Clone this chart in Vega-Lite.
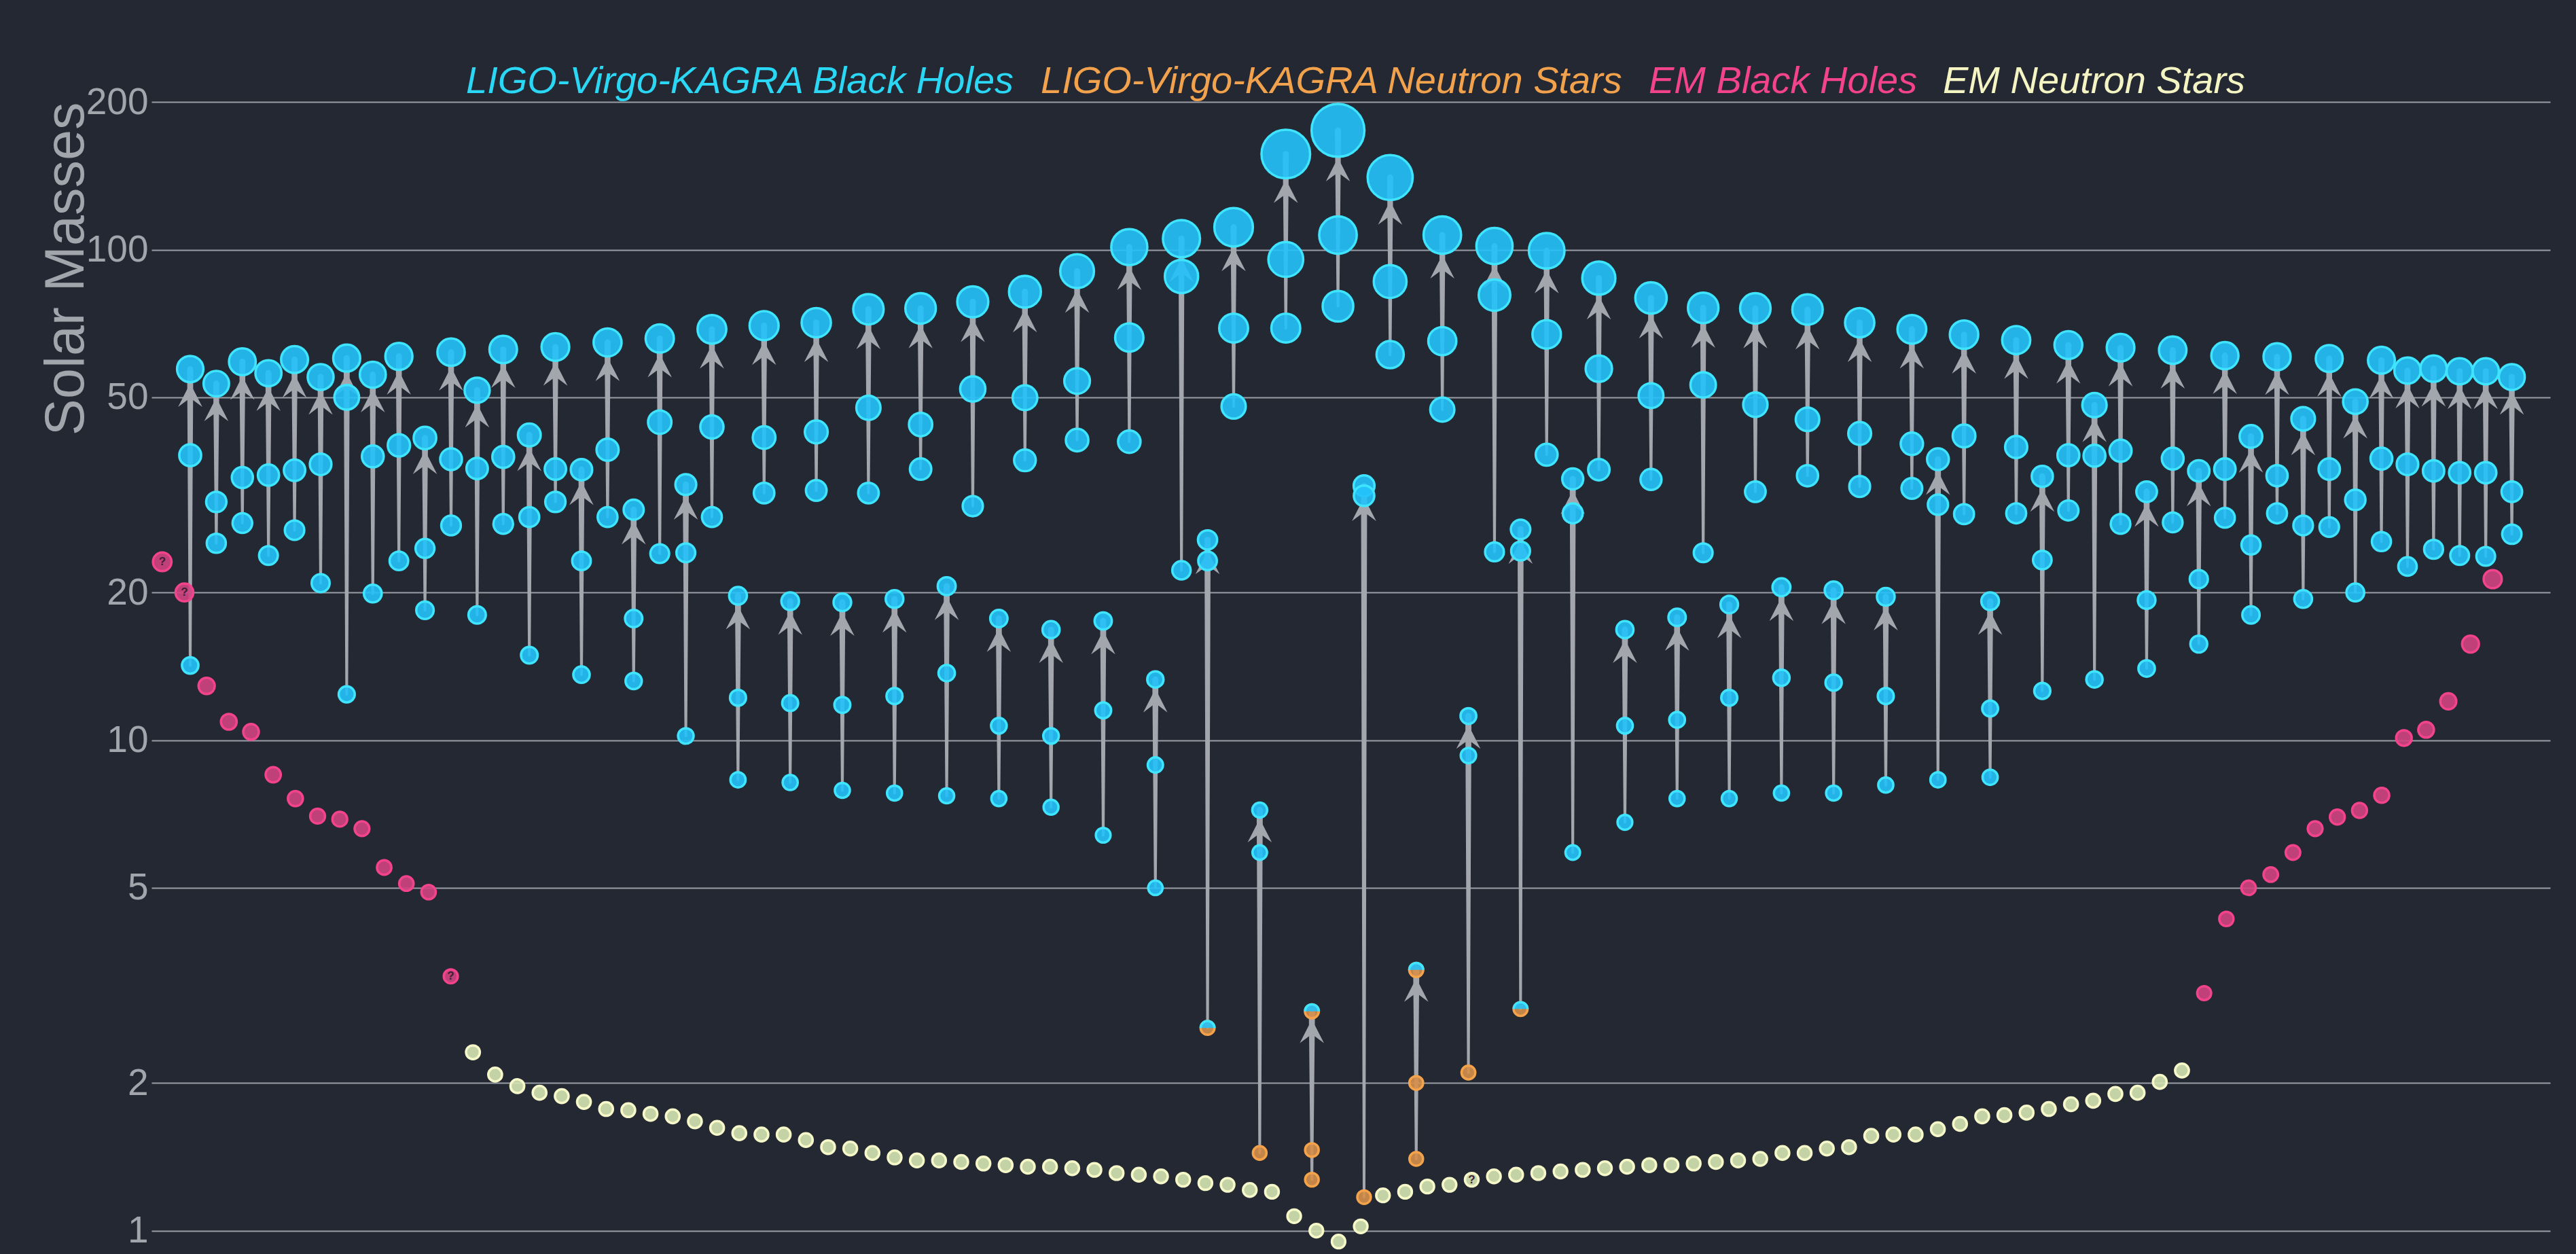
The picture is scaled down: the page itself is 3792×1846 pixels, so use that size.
{
"$schema": "https://vega.github.io/schema/vega-lite/v6.json",
"width": 3531, "height": 1846,
"autosize": {"type": "none"},
"padding": {"left": 223, "top": 0, "right": 38, "bottom": 0},
"background": "#242833",
"config": {"view": {"stroke": null}, "font": "Liberation Sans",
  "legend": {"symbolSize": 0, "symbolStrokeWidth": 0, "symbolOpacity": 0, "labelOffset": -19, "columnPadding": 0, "padding": 0,
    "labelFont": "Liberation Sans", "labelFontSize": 56, "labelFontStyle": "italic", "labelLimit": 2000}},
"datasets": {
"lvk": [
{"event":0,"role":"f","mass":57.1,"type":"LB"},{"event":0,"role":"a","mass":38.1,"type":"LB"},{"event":0,"role":"b","mass":14.2,"type":"LB"},
{"event":1,"role":"f","mass":53.3,"type":"LB"},{"event":1,"role":"a","mass":30.6,"type":"LB"},{"event":1,"role":"b","mass":25.2,"type":"LB"},
{"event":2,"role":"f","mass":59.1,"type":"LB"},{"event":2,"role":"a","mass":34.3,"type":"LB"},{"event":2,"role":"b","mass":27.7,"type":"LB"},
{"event":3,"role":"f","mass":56.0,"type":"LB"},{"event":3,"role":"a","mass":34.7,"type":"LB"},{"event":3,"role":"b","mass":23.8,"type":"LB"},
{"event":4,"role":"f","mass":59.7,"type":"LB"},{"event":4,"role":"a","mass":35.5,"type":"LB"},{"event":4,"role":"b","mass":26.8,"type":"LB"},
{"event":5,"role":"f","mass":55.0,"type":"LB"},{"event":5,"role":"a","mass":36.5,"type":"LB"},{"event":5,"role":"b","mass":20.9,"type":"LB"},
{"event":6,"role":"f","mass":60.1,"type":"LB"},{"event":6,"role":"a","mass":50.0,"type":"LB"},{"event":6,"role":"b","mass":12.4,"type":"LB"},
{"event":7,"role":"f","mass":55.6,"type":"LB"},{"event":7,"role":"a","mass":37.9,"type":"LB"},{"event":7,"role":"b","mass":19.9,"type":"LB"},
{"event":8,"role":"f","mass":60.6,"type":"LB"},{"event":8,"role":"a","mass":39.9,"type":"LB"},{"event":8,"role":"b","mass":23.2,"type":"LB"},
{"event":9,"role":"f","mass":41.3,"type":"LB"},{"event":9,"role":"a","mass":24.6,"type":"LB"},{"event":9,"role":"b","mass":18.4,"type":"LB"},
{"event":10,"role":"f","mass":61.8,"type":"LB"},{"event":10,"role":"a","mass":37.4,"type":"LB"},{"event":10,"role":"b","mass":27.4,"type":"LB"},
{"event":11,"role":"f","mass":51.7,"type":"LB"},{"event":11,"role":"a","mass":35.8,"type":"LB"},{"event":11,"role":"b","mass":18.0,"type":"LB"},
{"event":12,"role":"f","mass":62.6,"type":"LB"},{"event":12,"role":"a","mass":37.8,"type":"LB"},{"event":12,"role":"b","mass":27.6,"type":"LB"},
{"event":13,"role":"f","mass":41.9,"type":"LB"},{"event":13,"role":"a","mass":28.5,"type":"LB"},{"event":13,"role":"b","mass":14.9,"type":"LB"},
{"event":14,"role":"f","mass":63.3,"type":"LB"},{"event":14,"role":"a","mass":35.7,"type":"LB"},{"event":14,"role":"b","mass":30.6,"type":"LB"},
{"event":15,"role":"f","mass":35.6,"type":"LB"},{"event":15,"role":"a","mass":23.2,"type":"LB"},{"event":15,"role":"b","mass":13.6,"type":"LB"},
{"event":16,"role":"f","mass":64.7,"type":"LB"},{"event":16,"role":"a","mass":39.1,"type":"LB"},{"event":16,"role":"b","mass":28.5,"type":"LB"},
{"event":17,"role":"f","mass":29.5,"type":"LB"},{"event":17,"role":"a","mass":17.7,"type":"LB"},{"event":17,"role":"b","mass":13.2,"type":"LB"},
{"event":18,"role":"f","mass":65.9,"type":"LB"},{"event":18,"role":"a","mass":44.5,"type":"LB"},{"event":18,"role":"b","mass":24.0,"type":"LB"},
{"event":19,"role":"f","mass":33.2,"type":"LB"},{"event":19,"role":"a","mass":24.1,"type":"LB"},{"event":19,"role":"b","mass":10.2,"type":"LB"},
{"event":20,"role":"f","mass":68.8,"type":"LB"},{"event":20,"role":"a","mass":43.5,"type":"LB"},{"event":20,"role":"b","mass":28.5,"type":"LB"},
{"event":21,"role":"f","mass":19.7,"type":"LB"},{"event":21,"role":"a","mass":12.2,"type":"LB"},{"event":21,"role":"b","mass":8.3,"type":"LB"},
{"event":22,"role":"f","mass":70.0,"type":"LB"},{"event":22,"role":"a","mass":41.4,"type":"LB"},{"event":22,"role":"b","mass":31.9,"type":"LB"},
{"event":23,"role":"f","mass":19.2,"type":"LB"},{"event":23,"role":"a","mass":11.9,"type":"LB"},{"event":23,"role":"b","mass":8.2,"type":"LB"},
{"event":24,"role":"f","mass":71.0,"type":"LB"},{"event":24,"role":"a","mass":42.5,"type":"LB"},{"event":24,"role":"b","mass":32.3,"type":"LB"},
{"event":25,"role":"f","mass":19.1,"type":"LB"},{"event":25,"role":"a","mass":11.8,"type":"LB"},{"event":25,"role":"b","mass":7.9,"type":"LB"},
{"event":26,"role":"f","mass":75.6,"type":"LB"},{"event":26,"role":"a","mass":47.6,"type":"LB"},{"event":26,"role":"b","mass":31.9,"type":"LB"},
{"event":27,"role":"f","mass":19.4,"type":"LB"},{"event":27,"role":"a","mass":12.3,"type":"LB"},{"event":27,"role":"b","mass":7.8,"type":"LB"},
{"event":28,"role":"f","mass":75.9,"type":"LB"},{"event":28,"role":"a","mass":44.0,"type":"LB"},{"event":28,"role":"b","mass":35.7,"type":"LB"},
{"event":29,"role":"f","mass":20.6,"type":"LB"},{"event":29,"role":"a","mass":13.7,"type":"LB"},{"event":29,"role":"b","mass":7.7,"type":"LB"},
{"event":30,"role":"f","mass":78.3,"type":"LB"},{"event":30,"role":"a","mass":52.0,"type":"LB"},{"event":30,"role":"b","mass":30.0,"type":"LB"},
{"event":31,"role":"f","mass":17.7,"type":"LB"},{"event":31,"role":"a","mass":10.7,"type":"LB"},{"event":31,"role":"b","mass":7.6,"type":"LB"},
{"event":32,"role":"f","mass":82.1,"type":"LB"},{"event":32,"role":"a","mass":49.9,"type":"LB"},{"event":32,"role":"b","mass":37.2,"type":"LB"},
{"event":33,"role":"f","mass":16.8,"type":"LB"},{"event":33,"role":"a","mass":10.2,"type":"LB"},{"event":33,"role":"b","mass":7.3,"type":"LB"},
{"event":34,"role":"f","mass":90.4,"type":"LB"},{"event":34,"role":"a","mass":54.0,"type":"LB"},{"event":34,"role":"b","mass":40.9,"type":"LB"},
{"event":35,"role":"f","mass":17.5,"type":"LB"},{"event":35,"role":"a","mass":11.5,"type":"LB"},{"event":35,"role":"b","mass":6.4,"type":"LB"},
{"event":36,"role":"f","mass":101.2,"type":"LB"},{"event":36,"role":"a","mass":66.2,"type":"LB"},{"event":36,"role":"b","mass":40.6,"type":"LB"},
{"event":37,"role":"f","mass":13.3,"type":"LB"},{"event":37,"role":"a","mass":8.9,"type":"LB"},{"event":37,"role":"b","mass":5.0,"type":"LB"},
{"event":38,"role":"f","mass":105.3,"type":"LB"},{"event":38,"role":"a","mass":88.2,"type":"LB"},{"event":38,"role":"b","mass":22.2,"type":"LB"},
{"event":39,"role":"f","mass":25.6,"type":"LB"},{"event":39,"role":"a","mass":23.2,"type":"LB"},{"event":39,"role":"b","mass":2.59,"type":"LN","gap":true},
{"event":40,"role":"f","mass":111.1,"type":"LB"},{"event":40,"role":"a","mass":69.2,"type":"LB"},{"event":40,"role":"b","mass":47.9,"type":"LB"},
{"event":41,"role":"f","mass":7.2,"type":"LB"},{"event":41,"role":"a","mass":5.9,"type":"LB"},{"event":41,"role":"b","mass":1.44,"type":"LN"},
{"event":42,"role":"f","mass":156.7,"type":"LB"},{"event":42,"role":"a","mass":95.5,"type":"LB"},{"event":42,"role":"b","mass":69.2,"type":"LB"},
{"event":43,"role":"f","mass":2.80,"type":"LN","gap":true},{"event":43,"role":"a","mass":1.46,"type":"LN"},{"event":43,"role":"b","mass":1.27,"type":"LN"},
{"event":44,"role":"f","mass":175.1,"type":"LB"},{"event":44,"role":"a","mass":107.1,"type":"LB"},{"event":44,"role":"b","mass":76.7,"type":"LB"},
{"event":45,"role":"f","mass":33.0,"type":"LB"},{"event":45,"role":"a","mass":31.5,"type":"LB"},{"event":45,"role":"b","mass":1.17,"type":"LN"},
{"event":46,"role":"f","mass":140.3,"type":"LB"},{"event":46,"role":"a","mass":86.1,"type":"LB"},{"event":46,"role":"b","mass":61.1,"type":"LB"},
{"event":47,"role":"f","mass":3.40,"type":"LN","gap":true},{"event":47,"role":"a","mass":2.0,"type":"LN"},{"event":47,"role":"b","mass":1.40,"type":"LN"},
{"event":48,"role":"f","mass":107.1,"type":"LB"},{"event":48,"role":"a","mass":65.1,"type":"LB"},{"event":48,"role":"b","mass":47.2,"type":"LB"},
{"event":49,"role":"f","mass":11.2,"type":"LB"},{"event":49,"role":"a","mass":9.3,"type":"LB"},{"event":49,"role":"b","mass":2.10,"type":"LN"},
{"event":50,"role":"f","mass":101.7,"type":"LB"},{"event":50,"role":"a","mass":80.8,"type":"LB"},{"event":50,"role":"b","mass":24.2,"type":"LB"},
{"event":51,"role":"f","mass":26.9,"type":"LB"},{"event":51,"role":"a","mass":24.3,"type":"LB"},{"event":51,"role":"b","mass":2.83,"type":"LN","gap":true},
{"event":52,"role":"f","mass":99.5,"type":"LB"},{"event":52,"role":"a","mass":67.2,"type":"LB"},{"event":52,"role":"b","mass":38.2,"type":"LB"},
{"event":53,"role":"f","mass":34.1,"type":"LB"},{"event":53,"role":"a","mass":29.0,"type":"LB"},{"event":53,"role":"b","mass":5.9,"type":"LB"},
{"event":54,"role":"f","mass":87.5,"type":"LB"},{"event":54,"role":"a","mass":57.2,"type":"LB"},{"event":54,"role":"b","mass":35.6,"type":"LB"},
{"event":55,"role":"f","mass":16.8,"type":"LB"},{"event":55,"role":"a","mass":10.7,"type":"LB"},{"event":55,"role":"b","mass":6.8,"type":"LB"},
{"event":56,"role":"f","mass":79.7,"type":"LB"},{"event":56,"role":"a","mass":50.4,"type":"LB"},{"event":56,"role":"b","mass":34.0,"type":"LB"},
{"event":57,"role":"f","mass":17.8,"type":"LB"},{"event":57,"role":"a","mass":11.0,"type":"LB"},{"event":57,"role":"b","mass":7.6,"type":"LB"},
{"event":58,"role":"f","mass":76.1,"type":"LB"},{"event":58,"role":"a","mass":53.0,"type":"LB"},{"event":58,"role":"b","mass":24.1,"type":"LB"},
{"event":59,"role":"f","mass":18.9,"type":"LB"},{"event":59,"role":"a","mass":12.2,"type":"LB"},{"event":59,"role":"b","mass":7.6,"type":"LB"},
{"event":60,"role":"f","mass":75.9,"type":"LB"},{"event":60,"role":"a","mass":48.3,"type":"LB"},{"event":60,"role":"b","mass":32.1,"type":"LB"},
{"event":61,"role":"f","mass":20.5,"type":"LB"},{"event":61,"role":"a","mass":13.4,"type":"LB"},{"event":61,"role":"b","mass":7.8,"type":"LB"},
{"event":62,"role":"f","mass":75.5,"type":"LB"},{"event":62,"role":"a","mass":45.1,"type":"LB"},{"event":62,"role":"b","mass":34.6,"type":"LB"},
{"event":63,"role":"f","mass":20.2,"type":"LB"},{"event":63,"role":"a","mass":13.1,"type":"LB"},{"event":63,"role":"b","mass":7.8,"type":"LB"},
{"event":64,"role":"f","mass":71.0,"type":"LB"},{"event":64,"role":"a","mass":42.2,"type":"LB"},{"event":64,"role":"b","mass":32.9,"type":"LB"},
{"event":65,"role":"f","mass":19.6,"type":"LB"},{"event":65,"role":"a","mass":12.3,"type":"LB"},{"event":65,"role":"b","mass":8.1,"type":"LB"},
{"event":66,"role":"f","mass":68.8,"type":"LB"},{"event":66,"role":"a","mass":40.2,"type":"LB"},{"event":66,"role":"b","mass":32.6,"type":"LB"},
{"event":67,"role":"f","mass":37.4,"type":"LB"},{"event":67,"role":"a","mass":30.2,"type":"LB"},{"event":67,"role":"b","mass":8.3,"type":"LB"},
{"event":68,"role":"f","mass":67.1,"type":"LB"},{"event":68,"role":"a","mass":41.7,"type":"LB"},{"event":68,"role":"b","mass":28.9,"type":"LB"},
{"event":69,"role":"f","mass":19.2,"type":"LB"},{"event":69,"role":"a","mass":11.6,"type":"LB"},{"event":69,"role":"b","mass":8.4,"type":"LB"},
{"event":70,"role":"f","mass":65.4,"type":"LB"},{"event":70,"role":"a","mass":39.6,"type":"LB"},{"event":70,"role":"b","mass":29.0,"type":"LB"},
{"event":71,"role":"f","mass":34.5,"type":"LB"},{"event":71,"role":"a","mass":23.3,"type":"LB"},{"event":71,"role":"b","mass":12.6,"type":"LB"},
{"event":72,"role":"f","mass":63.9,"type":"LB"},{"event":72,"role":"a","mass":38.1,"type":"LB"},{"event":72,"role":"b","mass":29.4,"type":"LB"},
{"event":73,"role":"f","mass":48.2,"type":"LB"},{"event":73,"role":"a","mass":38.0,"type":"LB"},{"event":73,"role":"b","mass":13.3,"type":"LB"},
{"event":74,"role":"f","mass":63.1,"type":"LB"},{"event":74,"role":"a","mass":38.9,"type":"LB"},{"event":74,"role":"b","mass":27.6,"type":"LB"},
{"event":75,"role":"f","mass":32.1,"type":"LB"},{"event":75,"role":"a","mass":19.3,"type":"LB"},{"event":75,"role":"b","mass":14.0,"type":"LB"},
{"event":76,"role":"f","mass":62.4,"type":"LB"},{"event":76,"role":"a","mass":37.5,"type":"LB"},{"event":76,"role":"b","mass":27.8,"type":"LB"},
{"event":77,"role":"f","mass":35.4,"type":"LB"},{"event":77,"role":"a","mass":21.3,"type":"LB"},{"event":77,"role":"b","mass":15.7,"type":"LB"},
{"event":78,"role":"f","mass":60.8,"type":"LB"},{"event":78,"role":"a","mass":35.7,"type":"LB"},{"event":78,"role":"b","mass":28.4,"type":"LB"},
{"event":79,"role":"f","mass":41.6,"type":"LB"},{"event":79,"role":"a","mass":25.0,"type":"LB"},{"event":79,"role":"b","mass":18.0,"type":"LB"},
{"event":80,"role":"f","mass":60.5,"type":"LB"},{"event":80,"role":"a","mass":34.6,"type":"LB"},{"event":80,"role":"b","mass":29.0,"type":"LB"},
{"event":81,"role":"f","mass":45.2,"type":"LB"},{"event":81,"role":"a","mass":27.4,"type":"LB"},{"event":81,"role":"b","mass":19.4,"type":"LB"},
{"event":82,"role":"f","mass":60.0,"type":"LB"},{"event":82,"role":"a","mass":35.7,"type":"LB"},{"event":82,"role":"b","mass":27.2,"type":"LB"},
{"event":83,"role":"f","mass":49.0,"type":"LB"},{"event":83,"role":"a","mass":30.9,"type":"LB"},{"event":83,"role":"b","mass":20.0,"type":"LB"},
{"event":84,"role":"f","mass":59.5,"type":"LB"},{"event":84,"role":"a","mass":37.5,"type":"LB"},{"event":84,"role":"b","mass":25.4,"type":"LB"},
{"event":85,"role":"f","mass":56.7,"type":"LB"},{"event":85,"role":"a","mass":36.5,"type":"LB"},{"event":85,"role":"b","mass":22.6,"type":"LB"},
{"event":86,"role":"f","mass":57.2,"type":"LB"},{"event":86,"role":"a","mass":35.4,"type":"LB"},{"event":86,"role":"b","mass":24.5,"type":"LB"},
{"event":87,"role":"f","mass":56.5,"type":"LB"},{"event":87,"role":"a","mass":35.1,"type":"LB"},{"event":87,"role":"b","mass":23.8,"type":"LB"},
{"event":88,"role":"f","mass":56.5,"type":"LB"},{"event":88,"role":"a","mass":35.1,"type":"LB"},{"event":88,"role":"b","mass":23.7,"type":"LB"},
{"event":89,"role":"f","mass":55.0,"type":"LB"},{"event":89,"role":"a","mass":32.1,"type":"LB"},{"event":89,"role":"b","mass":26.3,"type":"LB"}
],
"em": [
{"slot":0,"mass":23.1,"type":"EB","q":true},{"slot":1,"mass":20.0,"type":"EB","q":true},{"slot":2,"mass":12.9,"type":"EB"},{"slot":3,"mass":10.9,"type":"EB"},
{"slot":4,"mass":10.4,"type":"EB"},{"slot":5,"mass":8.5,"type":"EB"},{"slot":6,"mass":7.6,"type":"EB"},{"slot":7,"mass":7.0,"type":"EB"},
{"slot":8,"mass":6.9,"type":"EB"},{"slot":9,"mass":6.6,"type":"EB"},{"slot":10,"mass":5.5,"type":"EB"},{"slot":11,"mass":5.1,"type":"EB"},
{"slot":12,"mass":4.9,"type":"EB"},{"slot":13,"mass":3.3,"type":"EB","q":true},
{"slot":14,"mass":2.31,"type":"EN"},{"slot":15,"mass":2.08,"type":"EN"},{"slot":16,"mass":1.97,"type":"EN"},{"slot":17,"mass":1.91,"type":"EN"},
{"slot":18,"mass":1.88,"type":"EN"},{"slot":19,"mass":1.83,"type":"EN"},{"slot":20,"mass":1.77,"type":"EN"},{"slot":21,"mass":1.76,"type":"EN"},
{"slot":22,"mass":1.73,"type":"EN"},{"slot":23,"mass":1.71,"type":"EN"},{"slot":24,"mass":1.67,"type":"EN"},{"slot":25,"mass":1.62,"type":"EN"},
{"slot":26,"mass":1.58,"type":"EN"},{"slot":27,"mass":1.57,"type":"EN"},{"slot":28,"mass":1.57,"type":"EN"},{"slot":29,"mass":1.53,"type":"EN"},
{"slot":30,"mass":1.48,"type":"EN"},{"slot":31,"mass":1.47,"type":"EN"},{"slot":32,"mass":1.44,"type":"EN"},{"slot":33,"mass":1.41,"type":"EN"},
{"slot":34,"mass":1.39,"type":"EN"},{"slot":35,"mass":1.39,"type":"EN"},{"slot":36,"mass":1.38,"type":"EN"},{"slot":37,"mass":1.37,"type":"EN"},
{"slot":38,"mass":1.36,"type":"EN"},{"slot":39,"mass":1.35,"type":"EN"},{"slot":40,"mass":1.35,"type":"EN"},{"slot":41,"mass":1.34,"type":"EN"},
{"slot":42,"mass":1.33,"type":"EN"},{"slot":43,"mass":1.31,"type":"EN"},{"slot":44,"mass":1.30,"type":"EN"},{"slot":45,"mass":1.29,"type":"EN"},
{"slot":46,"mass":1.27,"type":"EN"},{"slot":47,"mass":1.25,"type":"EN"},{"slot":48,"mass":1.24,"type":"EN"},{"slot":49,"mass":1.21,"type":"EN"},
{"slot":50,"mass":1.20,"type":"EN"},{"slot":51,"mass":1.07,"type":"EN"},{"slot":52,"mass":1.00,"type":"EN"},{"slot":53,"mass":0.95,"type":"EN"},
{"slot":54,"mass":1.02,"type":"EN"},{"slot":55,"mass":1.18,"type":"EN"},{"slot":56,"mass":1.20,"type":"EN"},{"slot":57,"mass":1.23,"type":"EN"},
{"slot":58,"mass":1.24,"type":"EN"},{"slot":59,"mass":1.27,"type":"EN","q":true},{"slot":60,"mass":1.29,"type":"EN"},{"slot":61,"mass":1.30,"type":"EN"},
{"slot":62,"mass":1.31,"type":"EN"},{"slot":63,"mass":1.32,"type":"EN"},{"slot":64,"mass":1.33,"type":"EN"},{"slot":65,"mass":1.34,"type":"EN"},
{"slot":66,"mass":1.35,"type":"EN"},{"slot":67,"mass":1.36,"type":"EN"},{"slot":68,"mass":1.36,"type":"EN"},{"slot":69,"mass":1.37,"type":"EN"},
{"slot":70,"mass":1.38,"type":"EN"},{"slot":71,"mass":1.39,"type":"EN"},{"slot":72,"mass":1.40,"type":"EN"},{"slot":73,"mass":1.44,"type":"EN"},
{"slot":74,"mass":1.44,"type":"EN"},{"slot":75,"mass":1.47,"type":"EN"},{"slot":76,"mass":1.48,"type":"EN"},{"slot":77,"mass":1.56,"type":"EN"},
{"slot":78,"mass":1.57,"type":"EN"},{"slot":79,"mass":1.57,"type":"EN"},{"slot":80,"mass":1.61,"type":"EN"},{"slot":81,"mass":1.65,"type":"EN"},
{"slot":82,"mass":1.71,"type":"EN"},{"slot":83,"mass":1.72,"type":"EN"},{"slot":84,"mass":1.74,"type":"EN"},{"slot":85,"mass":1.77,"type":"EN"},
{"slot":86,"mass":1.81,"type":"EN"},{"slot":87,"mass":1.84,"type":"EN"},{"slot":88,"mass":1.90,"type":"EN"},{"slot":89,"mass":1.91,"type":"EN"},
{"slot":90,"mass":2.01,"type":"EN"},{"slot":91,"mass":2.12,"type":"EN"},
{"slot":92,"mass":3.05,"type":"EB"},{"slot":93,"mass":4.32,"type":"EB"},{"slot":94,"mass":5.0,"type":"EB"},{"slot":95,"mass":5.32,"type":"EB"},
{"slot":96,"mass":5.9,"type":"EB"},{"slot":97,"mass":6.6,"type":"EB"},{"slot":98,"mass":6.97,"type":"EB"},{"slot":99,"mass":7.19,"type":"EB"},
{"slot":100,"mass":7.72,"type":"EB"},{"slot":101,"mass":10.1,"type":"EB"},{"slot":102,"mass":10.5,"type":"EB"},{"slot":103,"mass":12.0,"type":"EB"},
{"slot":104,"mass":15.7,"type":"EB"},{"slot":105,"mass":21.3,"type":"EB"}
]
},
"encoding": {
  "y": {"field": "mass", "type": "quantitative",
    "scale": {"type": "log", "domain": [0.896, 322.9], "nice": false},
    "axis": {"values": [1,2,5,10,20,50,100,200], "format": "~g", "grid": true, "gridColor": "#9a9da5", "gridWidth": 2,
      "domain": false, "ticks": false, "labelFontSize": 55, "labelColor": "#a2a5ac", "labelFont": "Liberation Sans",
      "labelPadding": 5, "labelOverlap": false, "labelBound": false, "labelFlush": false,
      "title": "Solar Masses", "titleFontSize": 81, "titleFontWeight": "normal", "titleColor": "#a2a5ac", "titleFont": "Liberation Sans",
      "titleAlign": "right", "titleBaseline": "alphabetic", "titleX": -101, "titleY": 150}}
},
"layer": [
  {
    "data": {"name": "lvk"},
    "encoding": {"x": {"field": "event", "type": "quantitative", "scale": {"domain": [-1.484, 90.47], "nice": false, "zero": false}, "axis": null}},
    "layer": [
      {"transform": [{"filter": "datum.role != 'a'"}],
       "mark": {"type": "trail", "opacity": 1},
       "encoding": {"detail": {"field": "event", "type": "nominal"}, "order": {"field": "mass", "type": "quantitative"},
         "color": {"value": "#a4a6ae"},
         "size": {"field": "role", "type": "nominal", "scale": {"type": "ordinal", "domain": ["b", "f"], "range": [4, 9]}, "legend": null}}},
      {"transform": [{"filter": "datum.role == 'f'"}],
       "mark": {"type": "point", "filled": true, "opacity": 1, "size": 1267, "color": "#a4a6ae", "strokeWidth": 0,
         "shape": "M0,-0.978L1,0.978L0.22,0.4L-0.22,0.4L-1,0.978Z",
         "yOffset": {"expr": "28.9 + 0.165*datum.mass"}}},
      {"mark": {"type": "point", "filled": true, "opacity": 1, "fillOpacity": 0.9, "strokeOpacity": 1, "strokeWidth": 3.5},
       "encoding": {
         "fill": {"field": "type", "type": "nominal", "scale": {"domain": ["LB","LN","EB","EN"], "range": ["#23c2fb","#d68f4a","#d24281","#d6e6b2"]},
           "legend": {"orient": "none", "legendX": 426, "legendY": 92, "direction": "horizontal", "columns": 4, "title": null,
             "labelExpr": "datum.value == 'LB' ? 'LIGO-Virgo-KAGRA Black Holes' : datum.value == 'LN' ? 'LIGO-Virgo-KAGRA Neutron Stars' : datum.value == 'EB' ? 'EM Black Holes' : 'EM Neutron Stars'",
             "encode": {"labels": {"update": {"fill": {"signal": "datum.value == 'LB' ? '#2ad8f5' : datum.value == 'LN' ? '#f2a24c' : datum.value == 'EB' ? '#f2438c' : '#f4f5c3'"}}}}}},
         "stroke": {"field": "type", "type": "nominal", "scale": {"domain": ["LB","LN","EB","EN"], "range": ["#3fe4ff","#f5a34a","#f2438c","#f6f8c9"]},
           "legend": {"orient": "none", "legendX": 426, "legendY": 92, "direction": "horizontal", "columns": 4, "title": null,
             "labelExpr": "datum.value == 'LB' ? 'LIGO-Virgo-KAGRA Black Holes' : datum.value == 'LN' ? 'LIGO-Virgo-KAGRA Neutron Stars' : datum.value == 'EB' ? 'EM Black Holes' : 'EM Neutron Stars'",
             "encode": {"labels": {"update": {"fill": {"signal": "datum.value == 'LB' ? '#2ad8f5' : datum.value == 'LN' ? '#f2a24c' : datum.value == 'EB' ? '#f2438c' : '#f4f5c3'"}}}}}},
         "size": {"field": "mass", "type": "quantitative", "scale": {"domain": [0,5,10,20,40,70,100,150,200], "range": [380,449,522,686,1076,1825,2770,4780,7330]}, "legend": null}}},
      {"transform": [{"filter": "datum.gap"}],
       "mark": {"type": "point", "filled": true, "opacity": 1, "fill": "#23c2fb", "fillOpacity": 0.9, "stroke": "#3fe4ff", "strokeWidth": 3.5,
         "shape": "M-1,0A1,1 0 0,1 1,0"},
       "encoding": {"size": {"field": "mass", "type": "quantitative", "scale": {"domain": [0,5,10,20,40,70,100,150,200], "range": [380,449,522,686,1076,1825,2770,4780,7330]}, "legend": null}}}
    ],
    "resolve": {"scale": {"size": "independent"}}
  },
  {
    "data": {"name": "em"},
    "encoding": {"x": {"field": "slot", "type": "quantitative", "scale": {"domain": [-0.484, 107.59], "nice": false, "zero": false}, "axis": null}},
    "layer": [
      {"mark": {"type": "point", "filled": true, "opacity": 1, "fillOpacity": 0.9, "strokeOpacity": 1, "strokeWidth": 3.5},
       "encoding": {
         "fill": {"field": "type", "type": "nominal", "scale": {"domain": ["LB","LN","EB","EN"], "range": ["#23c2fb","#d68f4a","#d24281","#d6e6b2"]},
           "legend": {"orient": "none", "legendX": 426, "legendY": 92, "direction": "horizontal", "columns": 4, "title": null,
             "labelExpr": "datum.value == 'LB' ? 'LIGO-Virgo-KAGRA Black Holes' : datum.value == 'LN' ? 'LIGO-Virgo-KAGRA Neutron Stars' : datum.value == 'EB' ? 'EM Black Holes' : 'EM Neutron Stars'",
             "encode": {"labels": {"update": {"fill": {"signal": "datum.value == 'LB' ? '#2ad8f5' : datum.value == 'LN' ? '#f2a24c' : datum.value == 'EB' ? '#f2438c' : '#f4f5c3'"}}}}}},
         "stroke": {"field": "type", "type": "nominal", "scale": {"domain": ["LB","LN","EB","EN"], "range": ["#3fe4ff","#f5a34a","#f2438c","#f6f8c9"]},
           "legend": {"orient": "none", "legendX": 426, "legendY": 92, "direction": "horizontal", "columns": 4, "title": null,
             "labelExpr": "datum.value == 'LB' ? 'LIGO-Virgo-KAGRA Black Holes' : datum.value == 'LN' ? 'LIGO-Virgo-KAGRA Neutron Stars' : datum.value == 'EB' ? 'EM Black Holes' : 'EM Neutron Stars'",
             "encode": {"labels": {"update": {"fill": {"signal": "datum.value == 'LB' ? '#2ad8f5' : datum.value == 'LN' ? '#f2a24c' : datum.value == 'EB' ? '#f2438c' : '#f4f5c3'"}}}}}},
         "size": {"field": "mass", "type": "quantitative", "scale": {"domain": [0,5,10,20,40,70,100,150,200], "range": [380,449,522,686,1076,1825,2770,4780,7330]}, "legend": null}}},
      {"transform": [{"filter": "datum.q"}],
       "mark": {"type": "text", "text": "?", "fontSize": 17, "fontWeight": "bold", "font": "Liberation Sans", "color": "#3d1f35", "align": "center", "baseline": "middle"}}
    ]
  }
],
"resolve": {"scale": {"x": "independent"}}
}
